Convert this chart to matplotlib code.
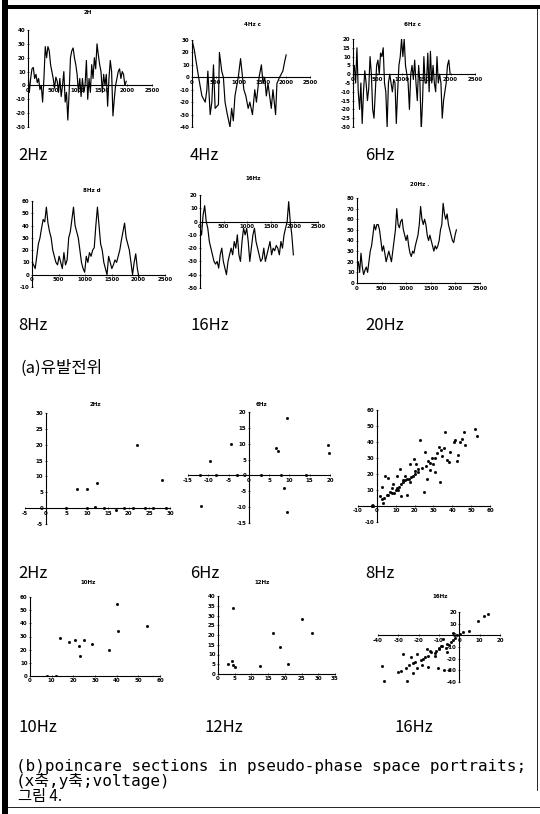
import numpy as np
import matplotlib
matplotlib.use('Agg')
import matplotlib.pyplot as plt
from matplotlib.patches import Rectangle
from matplotlib.lines import Line2D

plt.rcParams['font.family'] = ['DejaVu Sans', 'Noto Sans CJK KR']
plt.rcParams['axes.unicode_minus'] = False

W, H = 540, 814

# ---- (a) evoked potential time series, y values (x runs 0..end) ----
ts_2hz = [10, -5, 5, 12, 13, 5, 8, 2, 5, -3, 0, -12, 5, 28, 20, 28, 25, 15, 10, 5,
          -2, 6, 3, -5, 5, -8, 0, 10, -12, -5, -25, -5, 20, 25, 27, 20, 15, 8, -5, 5,
          -8, 5, -5, 0, 18, -10, 5, -5, 15, 5, 20, 12, 30, 22, 15, 10, -5, 8, 0, 8,
          -15, 5, 18, 10, -22, -10, 0, 5, 10, 12, 5, 10, 8, 0, 3]
ts_4hz_x = [0, 49, 140, 210, 280, 315, 336, 385, 420, 455, 490, 560, 581, 630, 665,
            700, 749, 805, 840, 875, 910, 980, 1029, 1071, 1099, 1141, 1190, 1225,
            1281, 1330, 1365, 1421, 1470, 1505, 1540, 1575, 1610, 1680, 1715, 1771,
            1799, 1855, 1925, 1960, 1995]
ts_4hz = [30, 22, 0, -15, -20, -10, 5, -30, -20, 10, -25, -22, 20, 5, 0, -20, -30,
          -40, -25, -35, -15, 0, 15, 0, -10, -15, -25, -20, -30, -10, -20, 0, 10, -5,
          0, -15, -5, -25, -10, -30, -5, 0, 5, 12, 18]
ts_6hz = [0, 5, -5, 15, -10, -20, -5, -28, -10, 2, -5, -15, -8, 10, 0, -20, -25, -10,
          5, 8, 0, 12, 10, 15, -5, -10, -30, -5, 0, -5, -10, -3, -5, -28, -10, 5, 10,
          20, 10, 20, 5, 0, -5, -20, 0, 5, -3, 8, -5, -15, 5, -5, -32, -15, 10, -5, -5,
          12, -10, 13, -5, 5, -5, -10, 10, -5, 0, -5, -25, -15, -10, -5, 5, 8, 0]
ts_8hz = [10, 8, 5, 15, 25, 30, 38, 45, 43, 55, 42, 35, 30, 20, 15, 10, 8, 15, 10, 5,
          18, 8, 12, 30, 35, 45, 55, 40, 35, 30, 20, 10, 5, 2, 15, 10, 18, 15, 20, 22,
          40, 55, 40, 25, 20, 10, 5, 0, 15, 10, 5, 8, 12, 10, 15, 20, 28, 35, 42, 30,
          25, 20, 10, 0, 10, 17, 5, -2]
ts_16hz = [-5, -10, 5, 12, 0, -5, -15, -20, -25, -30, -32, -30, -35, -25, -20, -30,
           -35, -40, -30, -25, -20, -25, -15, -20, -10, -25, -30, -15, -5, -10, -5,
           -15, -30, -20, -10, -5, -15, -20, -25, -30, -28, -20, -30, -25, -20, -15,
           -25, -20, -22, -18, -20, -25, -15, -20, -10, -5, 0, 15, 0, -10, -25]
ts_20hz = [15, 20, 10, 28, 15, 8, 12, 15, 10, 20, 30, 35, 45, 55, 50, 55, 55, 50, 40,
           30, 35, 28, 20, 25, 30, 25, 20, 30, 40, 50, 70, 55, 52, 58, 60, 50, 45, 40,
           45, 35, 28, 25, 30, 28, 35, 40, 45, 55, 72, 60, 55, 60, 55, 45, 40, 45, 40,
           35, 30, 35, 32, 35, 40, 50, 55, 75, 65, 60, 65, 55, 50, 45, 40, 38, 45, 50]

# ---- (b) poincare sections ----
p2_x = [7.5, 10, 12.5, 28, 22, 5, 10, 12, 14, 17, 19, 21, 24, 26, 29]
p2_y = [6, 6, 8, 9, 20, 0, 0, 0.3, 0, -0.5, 0, 0, 0, 0, 0]
p6_x = [-4.3, -9.6, 6.8, 7.3, 19.4, 19.8, -11.8, 9.4, 8.6, 9.5, -12, -8, -3, 3, 8, 14]
p6_y = [10, 4.5, 8.5, 7.8, 9.5, 7, -9.5, -11.5, -4, 18, 0, 0, 0, 0, 0, 0]
p8_x = [52, 53, 46, 45, 47, 43, 36, 41, 39, 37, 33, 32, 34, 29, 27, 26, 24, 22, 20,
        19, 17, 15, 14, 12, 10, 8, 6, 4, 3.5, 23, 17.7, 19.5, 12.4, 10.6, 6, 4.4,
        2.6, 8, 16, 25, 31, 33.6, 26.5, 21, 17.7, 13, 10.6, 8.8, 5.3, 2.6, 1.8, 13,
        15, 25.6, 28.3, 30, 34.5, 35.4, 42.5, 38, 41.6, 44, -1.8, -2.6, 16, 18, 14,
        20, 22, 28, 31, 7, 9, 11]
p8_y = [48, 44, 46, 42, 38, 32, 46, 40, 34, 29, 37, 33, 35, 30, 28, 25, 24, 21, 20,
        19, 17, 16, 15, 12, 10, 8, 7, 5, 2, 41, 26, 29.5, 23, 18.7, 17.4, 18.7, 11.8,
        11, 7, 9, 21, 15, 17, 26, 15, 13.6, 11, 13.6, 7, 4.6, 6.4, 6, 18.7, 34,
        22.6, 26, 31, 36, 28, 27.7, 41, 40, 0, 0.2, 17, 18, 16, 22, 23, 27, 30, 9,
        8, 10]
p10_x = [13.9, 17.8, 20.9, 22.4, 24.7, 28.6, 23.2, 36.3, 40, 54, 40.5, 12, 8]
p10_y = [28.6, 25.7, 27.7, 22.9, 27.1, 24.3, 15.1, 19.4, 55, 38, 34, 0, 0]
p12_x = [3.1, 4.3, 4.5, 5, 12.7, 20.8, 18.6, 4.5, 16.5, 25, 28]
p12_y = [5, 6.9, 4.7, 3.4, 3.9, 5.3, 13.6, 34, 21, 28, 21]
p16_x = [-37, -25.5, -38, -30, -28.6, -26, -24.7, -23, -21.6, -19, -17, -15.3, -13.7,
         -11.4, -9.8, -8.3, -27.8, -24, -20.8, -16, -14.5, -12, -18.4, -20.8, -15.3,
         -10.6, -7.5, -5, -22.8, -6, -6.7, -9, -3, -2, -1, 0.5, -4, -6, 2, 5, -3, -8,
         12, 14, 9, -18, -12, -10, -5]
p16_y = [-39, -39, -26, -31, -30.3, -28, -25.4, -24, -22.7, -21, -18.6, -17.3, -14.6,
         -13.2, -10.5, -9.2, -16, -18.6, -16, -11.9, -13.2, -17.3, -25.4, -28, -26.8,
         -28, -29.5, -29.5, -32, -14.6, -10.5, -9.2, -4, -2, 0, 1, -6, -7, 3, 4, 2,
         -3, 17, 18, 12, -20, -15, -12, -8]

fig = plt.figure(figsize=(W / 100, H / 100), dpi=100)
fig.patch.set_facecolor('white')


def px_axes(x0, x1, ytop, ybot):
    return fig.add_axes([x0 / W, 1 - ybot / H, (x1 - x0) / W, (ybot - ytop) / H])


def ftext(x, y, s, **kw):
    fig.text(x / W, 1 - y / H, s, va='center', **kw)


def style(ax, xlim, ylim, xticks, yticks):
    ax.set_xlim(xlim)
    ax.set_ylim(ylim)
    ax.patch.set_alpha(0)
    for s in ('top', 'right'):
        ax.spines[s].set_visible(False)
    ax.spines['left'].set_position(('data', 0))
    ax.spines['bottom'].set_position(('data', 0))
    for s in ('left', 'bottom'):
        ax.spines[s].set_linewidth(0.8)
    ax.set_xticks(xticks)
    ax.set_yticks(yticks)
    ax.tick_params(labelsize=4, length=2, width=0.5, direction='inout', pad=0.8)
    for lab in ax.get_xticklabels() + ax.get_yticklabels():
        lab.set_fontweight('bold')


xt = [0, 500, 1000, 1500, 2000, 2500]
lw = 0.85

# row 1
ax = px_axes(28, 152, 30, 127)
ax.plot(np.linspace(0, 1980, len(ts_2hz)), ts_2hz, color='black', lw=lw)
style(ax, (0, 2500), (-30, 40), xt, range(-30, 41, 10))
ftext(88, 13, '2H', fontsize=4, fontweight='bold', ha='center')

ax = px_axes(192, 310, 40, 127)
ax.plot(ts_4hz_x, ts_4hz, color='black', lw=lw)
style(ax, (0, 2500), (-40, 30), xt, range(-40, 31, 10))
ftext(252, 24, '4Hz c', fontsize=4, fontweight='bold', ha='center')

ax = px_axes(353, 475, 39, 127)
ax.plot(np.linspace(0, 1990, len(ts_6hz)), ts_6hz, color='black', lw=lw)
style(ax, (0, 2500), (-30, 20), xt, range(-30, 21, 5))
ftext(412, 24, '6Hz c', fontsize=4, fontweight='bold', ha='center')

# row 2
ax = px_axes(32, 165, 201, 287)
ax.plot(np.linspace(0, 2010, len(ts_8hz)), ts_8hz, color='black', lw=lw)
style(ax, (0, 2500), (-10, 60), xt, range(-10, 61, 10))
ftext(92, 190, '8Hz d', fontsize=4, fontweight='bold', ha='center')

ax = px_axes(200, 318, 195, 288)
ax.plot(np.linspace(0, 1978, len(ts_16hz)), ts_16hz, color='black', lw=lw)
style(ax, (0, 2500), (-50, 20), xt, range(-50, 21, 10))
ftext(253, 178, '16Hz', fontsize=4, fontweight='bold', ha='center')

ax = px_axes(357, 480, 198, 283)
ax.plot(np.linspace(0, 2020, len(ts_20hz)), ts_20hz, color='black', lw=lw)
style(ax, (0, 2500), (0, 80), xt, range(0, 81, 10))
ftext(420, 185, '20Hz .', fontsize=4, fontweight='bold', ha='center')

# row 3 (poincare)
mk = dict(marker='s', ms=1.0, ls='none', color='black')
ax = px_axes(25, 170, 413, 524)
ax.plot(p2_x, p2_y, **mk)
style(ax, (-5, 30), (-5, 30), range(-5, 31, 5), range(-5, 31, 5))
ftext(95, 405, '2Hz', fontsize=4, fontweight='bold', ha='center')

ax = px_axes(188, 330, 412, 523)
ax.plot(p6_x, p6_y, **mk)
style(ax, (-15, 20), (-15, 20), range(-15, 21, 5), range(-15, 21, 5))
ftext(262, 404, '6Hz', fontsize=4, fontweight='bold', ha='center')

ax = px_axes(358, 490, 410, 522)
ax.plot(p8_x, p8_y, **mk)
style(ax, (-10, 60), (-10, 60), range(-10, 61, 10), range(-10, 61, 10))

# row 4
ax = px_axes(30, 160, 597, 676)
ax.plot(p10_x, p10_y, **mk)
style(ax, (0, 60), (0, 60), range(0, 61, 10), range(0, 61, 10))
ftext(88, 582, '10Hz', fontsize=4, fontweight='bold', ha='center')

ax = px_axes(218, 335, 596, 674)
ax.plot(p12_x, p12_y, **mk)
style(ax, (0, 35), (0, 40), range(0, 36, 5), range(0, 41, 5))
ftext(262, 582, '12Hz', fontsize=4, fontweight='bold', ha='center')

ax = px_axes(378, 500, 612, 682)
ax.plot(p16_x, p16_y, **mk)
style(ax, (-40, 20), (-40, 20), range(-40, 21, 10), range(-40, 21, 10))
ftext(440, 596, '16Hz', fontsize=4, fontweight='bold', ha='center')

# big labels
big = dict(fontsize=12, family=['Noto Sans CJK KR', 'DejaVu Sans'])
for x, y, s in [(18, 155, '2Hz'), (190, 155, '4Hz'), (365, 155, '6Hz'),
                (18, 325, '8Hz'), (190, 325, '16Hz'), (365, 325, '20Hz'),
                (18, 573, '2Hz'), (190, 573, '6Hz'), (365, 573, '8Hz'),
                (18, 728, '10Hz'), (205, 728, '12Hz'), (395, 728, '16Hz')]:
    ftext(x, y, s, **big)
ftext(20, 368, '(a)유발전위', **big)

mono = dict(fontsize=11.5, family=['DejaVu Sans Mono', 'Noto Sans CJK KR'])
ftext(16, 767, '(b)poincare sections in pseudo-phase space portraits;', **mono)
ftext(16, 781, '(x축,y축;voltage)', **mono)
ftext(18, 797, '그림 4.', fontsize=11, family=['Noto Sans CJK KR', 'DejaVu Sans'])

# page frame
fig.add_artist(Rectangle((2 / W, 0), 6 / W, 1, transform=fig.transFigure,
                         color='black', lw=0))
fig.add_artist(Rectangle((2 / W, 1 - 9 / H), 1, 4 / H, transform=fig.transFigure,
                         color='black', lw=0))
fig.add_artist(Line2D([537 / W, 537 / W], [1 - 790 / H, 1 - 8 / H],
                      transform=fig.transFigure, color='black', lw=0.6))
fig.add_artist(Line2D([8 / W, 1], [1 - 807 / H, 1 - 807 / H],
                      transform=fig.transFigure, color='black', lw=0.6))

fig.savefig('out.png', dpi=100, facecolor='white')
